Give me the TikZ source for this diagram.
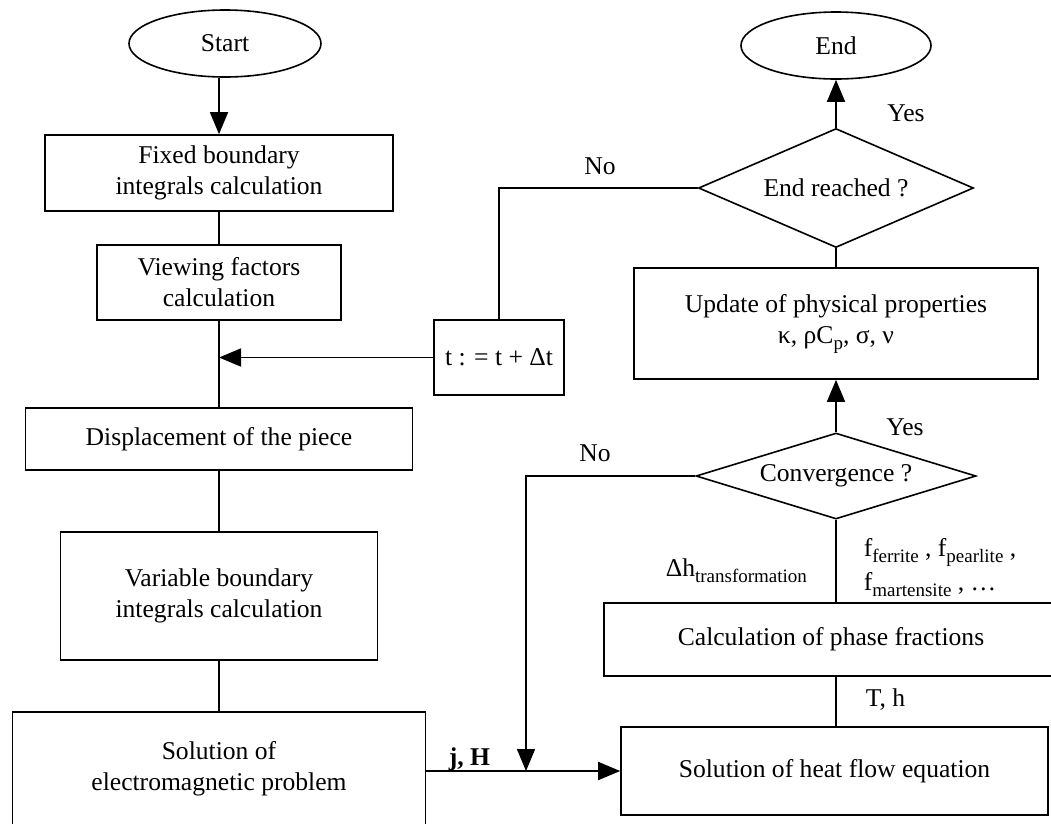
\documentclass[tikz,border=0pt]{standalone}
\usepackage{fontspec}
\setmainfont{Liberation Serif}
\usetikzlibrary{arrows.meta,shapes.geometric,calc}
\newcommand{\sbs}[1]{\raisebox{-6pt}{\fontsize{19}{19}\selectfont #1}}
\begin{document}
\begin{tikzpicture}[x=1pt,y=-1pt, line width=1.6pt,
  every node/.style={font=\fontsize{25.6}{31}\selectfont},
  box/.style={draw, rectangle, inner sep=0pt, align=center},
  term/.style={draw, ellipse, inner sep=0pt},
  dia/.style={draw, diamond, inner sep=0pt},
  arr/.style={-{Triangle[length=22pt,width=18pt]}},
  lbl/.style={inner sep=0pt}]
\useasboundingbox (0,0) rectangle (1051,823);
\clip (0,0) rectangle (1051,823);

% left column
\node[term, minimum width=192pt, minimum height=67pt] (start) at (225,43.5) {Start};
\node[box, minimum width=348pt, minimum height=76pt] (fixed) at (219,173) {Fixed boundary\\integrals calculation};
\node[box, minimum width=244pt, minimum height=75pt] (view) at (219,282.5) {Viewing factors\\calculation};
\node[box, minimum width=387pt, minimum height=62pt] (disp) at (219,439) {Displacement of the piece};
\node[box, minimum width=317pt, minimum height=128pt] (var) at (219,596) {Variable boundary\\integrals calculation};
\node[box, minimum width=413pt, minimum height=114pt] (em) at (219,769) {Solution of\\electromagnetic problem};
\node[box, minimum width=130pt, minimum height=75pt] (tbox) at (499,357.5) {t : = t + Δt};

% right column
\node[term, minimum width=190pt, minimum height=67pt] (end) at (836,45.5) {End};
\node[dia, minimum width=275pt, minimum height=119pt, label={center:End reached ?}] (endq) at (836,188) {};
\node[box, minimum width=404pt, minimum height=111pt] (upd) at (836,323.5) {Update of physical properties\\κ, ρC\sbs{p}, σ, ν};
\node[dia, minimum width=280pt, minimum height=86pt, label={center:Convergence ?}] (conv) at (836,476) {};
\node[box, minimum width=454pt, minimum height=73pt] (phase) at (831,639.5) {Calculation of phase fractions};
\node[box, minimum width=427pt, minimum height=88pt] (heat) at (834.5,771) {Solution of heat flow equation};

% connectors
\draw[arr] (start.south -| fixed.north) -- (fixed.north);
\draw (fixed.south) -- (view.north);
\draw (view.south) -- (disp.north);
\coordinate (J) at (view.south |- tbox.west);
\draw[arr] (tbox.west) -- (J);
\draw (disp.south) -- (var.north);
\draw (var.south) -- (em.north);
\draw[arr] (em.east |- heat.west) -- (heat.west);
\coordinate (nc) at (526,771);
\draw[arr] (conv.west) -| (nc);
\draw[arr] (conv.north) -- (upd.south);
\draw (conv.south) -- (conv.south |- phase.north);
\draw (phase.south -| conv.south) -- (conv.south |- heat.north);
\draw (upd.north) -- (endq.south);
\draw[arr] (endq.north) -- (end.south);
\draw (endq.west) -| (tbox.north);

% labels
\node[lbl] (no1) at (600,166) {No};
\node[lbl] (yes1) at (906,113) {Yes};
\node[lbl] (no2) at (595,453) {No};
\node[lbl] (yes2) at (905,427) {Yes};
\node[lbl, anchor=base west] (dh) at (665,576) {Δh\sbs{transformation}};
\node[lbl, anchor=base west] (ff1) at (863,556) {f\sbs{ferrite} , f\sbs{pearlite} ,};
\node[lbl, anchor=base west] (ff2) at (863,590) {f\sbs{martensite} , \ldots};
\node[lbl, anchor=base west] (th) at (865,706) {T, h};
\node[lbl, anchor=base west] (jh) at (448,765) {\textbf{j, H}};
\end{tikzpicture}
\end{document}
